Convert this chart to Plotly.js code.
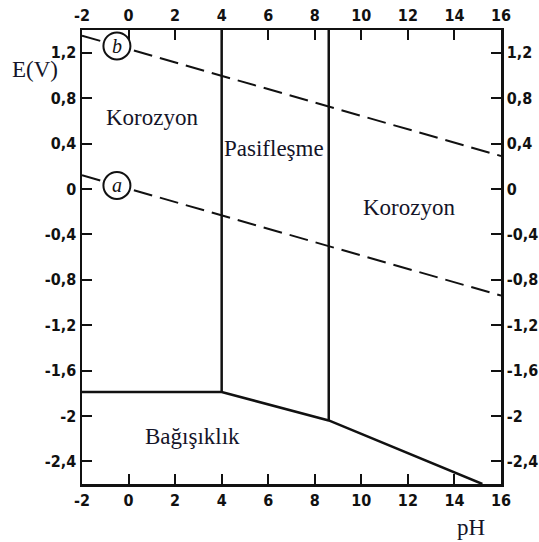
<!DOCTYPE html>
<html>
<head>
<meta charset="utf-8">
<script src="https://cdn.plot.ly/plotly-3.0.1.min.js"></script>
<style>html,body{margin:0;padding:0;background:#fff;}#chart{width:539px;height:542px;}</style>
</head>
<body>
<div id="chart"></div>
<script>
// Tick values and labels
const pHTicks = [-2, 0, 2, 4, 6, 8, 10, 12, 14, 16];
const ETickVals = [1.2, 0.8, 0.4, 0, -0.4, -0.8, -1.2, -1.6, -2, -2.4];
const ETickText = ['1,2', '0,8', '0,4', '0', '-0,4', '-0,8', '-1,2', '-1,6', '-2', '-2,4'];

// Boundary lines (pH, E)
const immunityPH = [-2, 4, 8.6, 15.2];
const immunityE = [-1.79, -1.79, -2.04, -2.6];
const passLeftPH = [4, 4];
const passLeftE = [1.4, -1.79];
const passRightPH = [8.6, 8.6];
const passRightE = [1.4, -2.04];

// Water stability lines
const lineBPH = [-2, 16];
const lineBE = [1.35, 0.29];
const lineAPH = [-2, 16];
const lineAE = [0.12, -0.94];

// Circle labels on water lines
const circlePH = [-0.5, -0.5];
const circleE = [1.26, 0.03];
const circleText = ['b', 'a'];

// Region labels
const regionText = ['Korozyon', 'Pasifleşme', 'Korozyon', 'Bağışıklık'];
const regionPH = [1.0, 6.25, 12.05, 2.73];
const regionE = [0.63, 0.36, -0.16, -2.18];

const ink = '#111';
const textInk = '#141428';
const serif = 'Liberation Serif, Times New Roman, serif';
const solid = {color: ink, width: 2.5};
const dashed = {color: ink, width: 2, dash: '19px,8px'};

const traces = [
  {x: lineBPH, y: lineBE, mode: 'lines', line: dashed, hoverinfo: 'skip'},
  {x: lineAPH, y: lineAE, mode: 'lines', line: dashed, hoverinfo: 'skip'},
  {x: immunityPH, y: immunityE, mode: 'lines', line: solid, hoverinfo: 'skip'},
  {x: passLeftPH, y: passLeftE, mode: 'lines', line: solid, hoverinfo: 'skip'},
  {x: passRightPH, y: passRightE, mode: 'lines', line: solid, hoverinfo: 'skip'},
  {x: circlePH, y: circleE, mode: 'markers', 
   marker: {symbol: 'circle', size: 27, color: '#fff', line: {color: ink, width: 2}},
   cliponaxis: false, hoverinfo: 'skip'},
  {x: [0], y: [0], xaxis: 'x2', yaxis: 'y2', mode: 'markers', marker: {opacity: 0}, hoverinfo: 'skip'}
];

const tickFont = {family: 'DejaVu Sans Condensed', size: 16, color: ink, weight: 'bold'};
const xCommon = {
  range: [-2, 16], tickvals: pHTicks, ticktext: pHTicks.map(String),
  ticks: 'inside', ticklen: 10, tickwidth: 2, tickcolor: ink,
  showline: true, linewidth: 2.5, linecolor: ink,
  showgrid: false, zeroline: false, tickfont: tickFont, fixedrange: true
};
const yCommon = {
  range: [-2.6, 1.4], tickvals: ETickVals, ticktext: ETickText,
  ticks: 'inside', ticklen: 10, tickwidth: 2, tickcolor: ink,
  showline: true, linewidth: 2.5, linecolor: ink,
  showgrid: false, zeroline: false, tickfont: tickFont, fixedrange: true
};

const annotations = [];
regionText.forEach((t, i) => annotations.push({
  text: t, x: regionPH[i], y: regionE[i], xref: 'x', yref: 'y',
  showarrow: false, xanchor: 'center', yanchor: 'middle',
  font: {family: serif, size: 23, color: textInk}
}));
circleText.forEach((t, i) => annotations.push({
  text: '<i>' + t + '</i>', x: circlePH[i], y: circleE[i], xref: 'x', yref: 'y',
  showarrow: false, xanchor: 'center', yanchor: 'middle',
  font: {family: serif, size: 20, color: ink}
}));
annotations.push(
  {text: 'E(V)', xref: 'paper', yref: 'paper', x: -0.112, y: 0.912,
   showarrow: false, xanchor: 'center', yanchor: 'middle',
   font: {family: serif, size: 23, color: textInk}},
  {text: 'pH', xref: 'paper', yref: 'paper', x: 0.928, y: -0.095,
   showarrow: false, xanchor: 'center', yanchor: 'middle',
   font: {family: serif, size: 23, color: textInk}}
);

const layout = {
  width: 539, height: 542,
  margin: {l: 82, r: 38, t: 30, b: 58},
  paper_bgcolor: '#fff', plot_bgcolor: '#fff',
  showlegend: false,
  xaxis: Object.assign({}, xCommon, {side: 'bottom'}),
  yaxis: Object.assign({}, yCommon, {side: 'left'}),
  xaxis2: Object.assign({}, xCommon, {side: 'top', overlaying: 'x', anchor: 'y'}),
  yaxis2: Object.assign({}, yCommon, {side: 'right', overlaying: 'y', anchor: 'x'}),
  annotations: annotations
};

Plotly.newPlot('chart', traces, layout, {staticPlot: true, displayModeBar: false});
</script>
</body>
</html>
